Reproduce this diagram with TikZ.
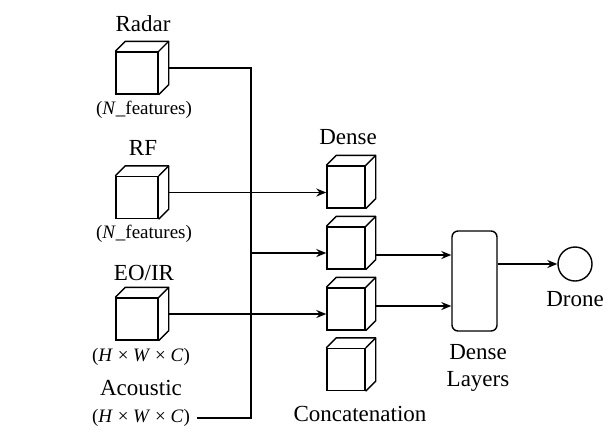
\documentclass[tikz,border=0pt]{standalone}
\usepackage{fontspec}
\setmainfont{Liberation Serif}
\usetikzlibrary{arrows.meta,calc}
\begin{document}
\begin{tikzpicture}[x=0.5pt,y=-0.5pt,line width=0.7pt,
  >={Stealth[length=5pt,width=4pt]},
  every node/.style={font=\fontsize{11.5}{13.5}\selectfont},
  dim/.style={font=\fontsize{9.5}{11}\selectfont},
  cube/.style={draw,rectangle,inner sep=0pt,minimum width=21pt,minimum height=21pt},
  dcube/.style={cube,minimum width=19pt}]
\useasboundingbox (0,0) rectangle (608,429);
% inputs
\node[cube] (radar) at (137,73) {};
\node[cube] (rf) at (137,197.5) {};
\node[cube] (eo) at (137,319) {};
\node (radarlbl) at (143,24) {Radar};
\node[dim] (radardim) at (144,110) {(\textit{N}\_features)};
\node (rflbl) at (143,148) {RF};
\node[dim] (rfdim) at (144,234) {(\textit{N}\_features)};
\node (eolbl) at (144,273) {EO/IR};
\node[dim] (eodim) at (141,357) {(\textit{H} × \textit{W} × \textit{C})};
\node (aclbl) at (141,388) {Acoustic};
\node[dim] (acdim) at (141,418) {(\textit{H} × \textit{W} × \textit{C})};
% dense cubes
\node[dcube] (d1) at (346,187) {};
\node[dcube] (d2) at (346,248) {};
\node[dcube] (d3) at (346,309) {};
\node[dcube] (d4) at (346,369.5) {};
\node (denselbl) at (348,137) {Dense};
\node (concat) at (360,414) {Concatenation};
% depth of the cubes
\foreach \c in {radar,rf,eo,d1,d2,d3,d4}{
  \draw[line join=round] (\c.north west) -- ++(5pt,5pt) -- ($(\c.north east)+(5pt,5pt)$)
    -- ($(\c.south east)+(5pt,5pt)$) -- (\c.south east);
  \draw (\c.north east) -- ++(5pt,5pt);
  \coordinate (\c-out) at ($(\c.east)+(5pt,2.5pt)$);
}
% dense layers and output
\node[draw,rounded corners=3pt,inner sep=0pt,minimum width=22.5pt,minimum height=50pt] (dl) at (474.5,281) {};
\node[align=center] (dllbl) at (478,368) {Dense\\Layers};
\node[draw,circle,inner sep=0pt,minimum size=17pt] (drone) at (575,264) {};
\node (dronelbl) at (575,299) {Drone};
% connections
\coordinate (bus) at (251,253);
\draw (radar-out) -| (bus |- acdim) -- (acdim.east);
\draw[->] (rf-out) -- (rf-out -| d1.west);
\draw[->] (bus) -- (bus -| d2.west);
\draw[->] (eo-out) -- (eo-out -| d3.west);
\coordinate (in1) at ($(dl.west)+(0,13pt)$);
\coordinate (in2) at ($(dl.west)+(0,-12.5pt)$);
\draw[->] (in1 -| d2-out) -- (in1);
\draw[->] (in2 -| d3-out) -- (in2);
\draw[->] (dl.east |- drone) -- (drone.west);
\end{tikzpicture}
\end{document}
